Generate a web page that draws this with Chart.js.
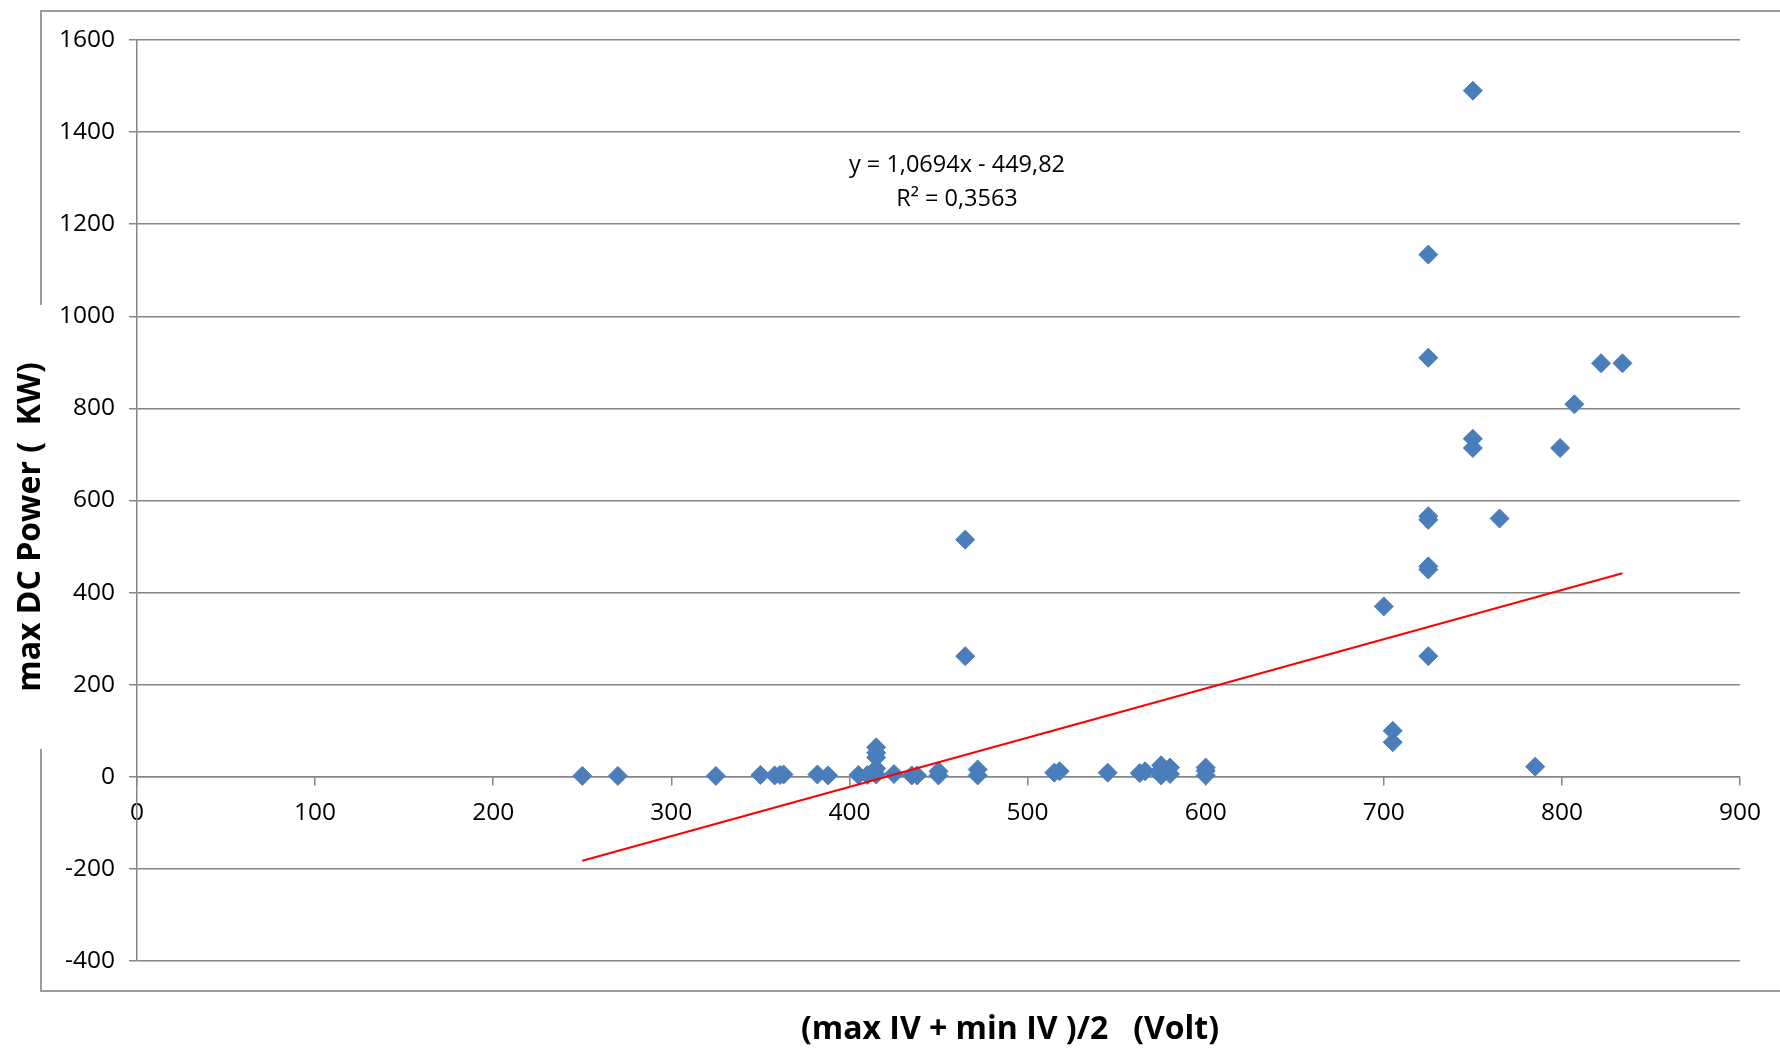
<!DOCTYPE html>
<html>
<head>
<meta charset="utf-8">
<title>max DC Power vs (max IV + min IV)/2</title>
<script src="https://cdn.jsdelivr.net/npm/chart.js@4/dist/chart.umd.min.js"></script>
<style>
  html, body { margin: 0; padding: 0; background: #ffffff; }
  #wrap { width: 1780px; height: 1049px; position: relative; }
</style>
</head>
<body>
<div id="wrap"><canvas id="chart"></canvas></div>
<script>
// Mean input voltage (Volt) for each inverter string
const voltage = [
  250, 270, 325, 350, 358, 361, 363, 382, 388, 405,
  410, 415, 415, 415, 415, 415, 425, 435, 438, 450,
  450, 465, 465, 472, 472, 515, 518, 545, 563, 566,
  575, 575, 575, 580, 580, 600, 600, 600, 700, 705,
  705, 725, 725, 725, 725, 725, 725, 725, 750, 750,
  750, 765, 785, 799, 807, 822, 834
];
// Maximum DC power (kW) for the same strings
const power = [
  2, 2, 2, 4, 3, 4, 5, 5, 3, 4,
  4, 64, 52, 42, 18, 5, 6, 3, 3, 12,
  3, 515, 262, 16, 3, 9, 12, 9, 8, 12,
  25, 16, 3, 20, 6, 20, 13, 3, 370, 100,
  75, 1134, 910, 566, 558, 457, 450, 262, 1490, 734,
  714, 561, 22, 714, 809, 898, 898
];

// Linear trend line fitted in the spreadsheet
const trendSlope = 1.0694;
const trendIntercept = -449.82;
const trendR2 = 0.3563;

// Axis ranges and steps
const xRange = [0, 900];
const xStep = 100;
const yRange = [-400, 1600];
const yStep = 200;

const xTitle = '(max IV + min IV )/2   (Volt)';
const yTitle = 'max DC Power (  KW)';

const FONT = "'Open Sans', 'Liberation Sans', sans-serif";
const GRID = '#868686';

const points = voltage.map((v, i) => ({ x: v, y: power[i] }));
const xLo = Math.min(...voltage);
const xHi = Math.max(...voltage);
const trend = [
  { x: xLo, y: trendSlope * xLo + trendIntercept },
  { x: xHi, y: trendSlope * xHi + trendIntercept }
];

const fmt = (n, d) => n.toFixed(d).replace('.', ',');
const eqLine1 = 'y = ' + fmt(trendSlope, 4) + 'x ' + (trendIntercept < 0 ? '- ' : '+ ') + fmt(Math.abs(trendIntercept), 2);
const eqLine2 = 'R\u00B2 = ' + fmt(trendR2, 4);

// Outer chart frame (open on the left where the vertical title sits)
const framePlugin = {
  id: 'frame',
  beforeDraw(chart) {
    const ctx = chart.ctx;
    ctx.save();
    ctx.strokeStyle = '#9c9c9c';
    ctx.lineWidth = 2;
    ctx.beginPath();
    ctx.moveTo(1780, 11); ctx.lineTo(41, 11); ctx.lineTo(41, 305);
    ctx.moveTo(41, 749); ctx.lineTo(41, 991); ctx.lineTo(1780, 991);
    ctx.stroke();
    ctx.restore();
  }
};

// Axis titles and the trend line equation
const textPlugin = {
  id: 'texts',
  afterDraw(chart) {
    const ctx = chart.ctx;
    ctx.save();
    ctx.fillStyle = '#000000';
    ctx.textAlign = 'center';
    ctx.textBaseline = 'middle';

    ctx.font = "bold 32px " + FONT;
    ctx.fillText(xTitle, 1010, 1030);

    ctx.save();
    ctx.translate(31, 527);
    ctx.rotate(-Math.PI / 2);
    ctx.fillText(yTitle, 0, 0);
    ctx.restore();

    ctx.font = "23.5px " + FONT;
    ctx.fillText(eqLine1, 957, 165);
    ctx.fillText(eqLine2, 957, 199);
    ctx.restore();
  }
};

new Chart(document.getElementById('chart'), {
  type: 'scatter',
  data: {
    datasets: [
      {
        label: 'Trend',
        type: 'line',
        data: trend,
        borderColor: '#ff0000',
        borderWidth: 2,
        pointRadius: 0,
        fill: false,
        order: 0
      },
      {
        label: 'max DC Power',
        data: points,
        pointStyle: 'rectRot',
        pointRadius: 9.5,
        pointBackgroundColor: '#4a7ebb',
        pointBorderColor: '#4a7ebb',
        pointBorderWidth: 1,
        order: 1
      }
    ]
  },
  options: {
    responsive: true,
    maintainAspectRatio: false,
    animation: false,
    devicePixelRatio: 1,
    layout: { padding: { left: 0, top: 40, right: 40, bottom: 88 } },
    plugins: { legend: { display: false }, tooltip: { enabled: false } },
    scales: {
      x: {
        type: 'linear',
        position: { y: 0 },
        min: xRange[0],
        max: xRange[1],
        ticks: {
          stepSize: xStep,
          autoSkip: false,
          maxRotation: 0,
          color: '#000000',
          padding: 14,
          font: { family: FONT, size: 24.5 },
          callback: v => String(v)
        },
        grid: { drawOnChartArea: false, drawTicks: true, tickLength: 8, color: GRID, lineWidth: 1.5 },
        border: { display: true, color: GRID, width: 1.5 },
        afterFit: s => { s.height = 0; }
      },
      y: {
        type: 'linear',
        min: yRange[0],
        max: yRange[1],
        ticks: {
          stepSize: yStep,
          color: '#000000',
          padding: 14,
          font: { family: FONT, size: 24.5 },
          callback: v => String(v)
        },
        grid: { color: GRID, lineWidth: 1.5, tickLength: 8 },
        border: { display: true, color: GRID, width: 1.5 },
        afterFit: s => { s.width = 137; }
      }
    }
  },
  plugins: [framePlugin, textPlugin]
});
</script>
</body>
</html>
